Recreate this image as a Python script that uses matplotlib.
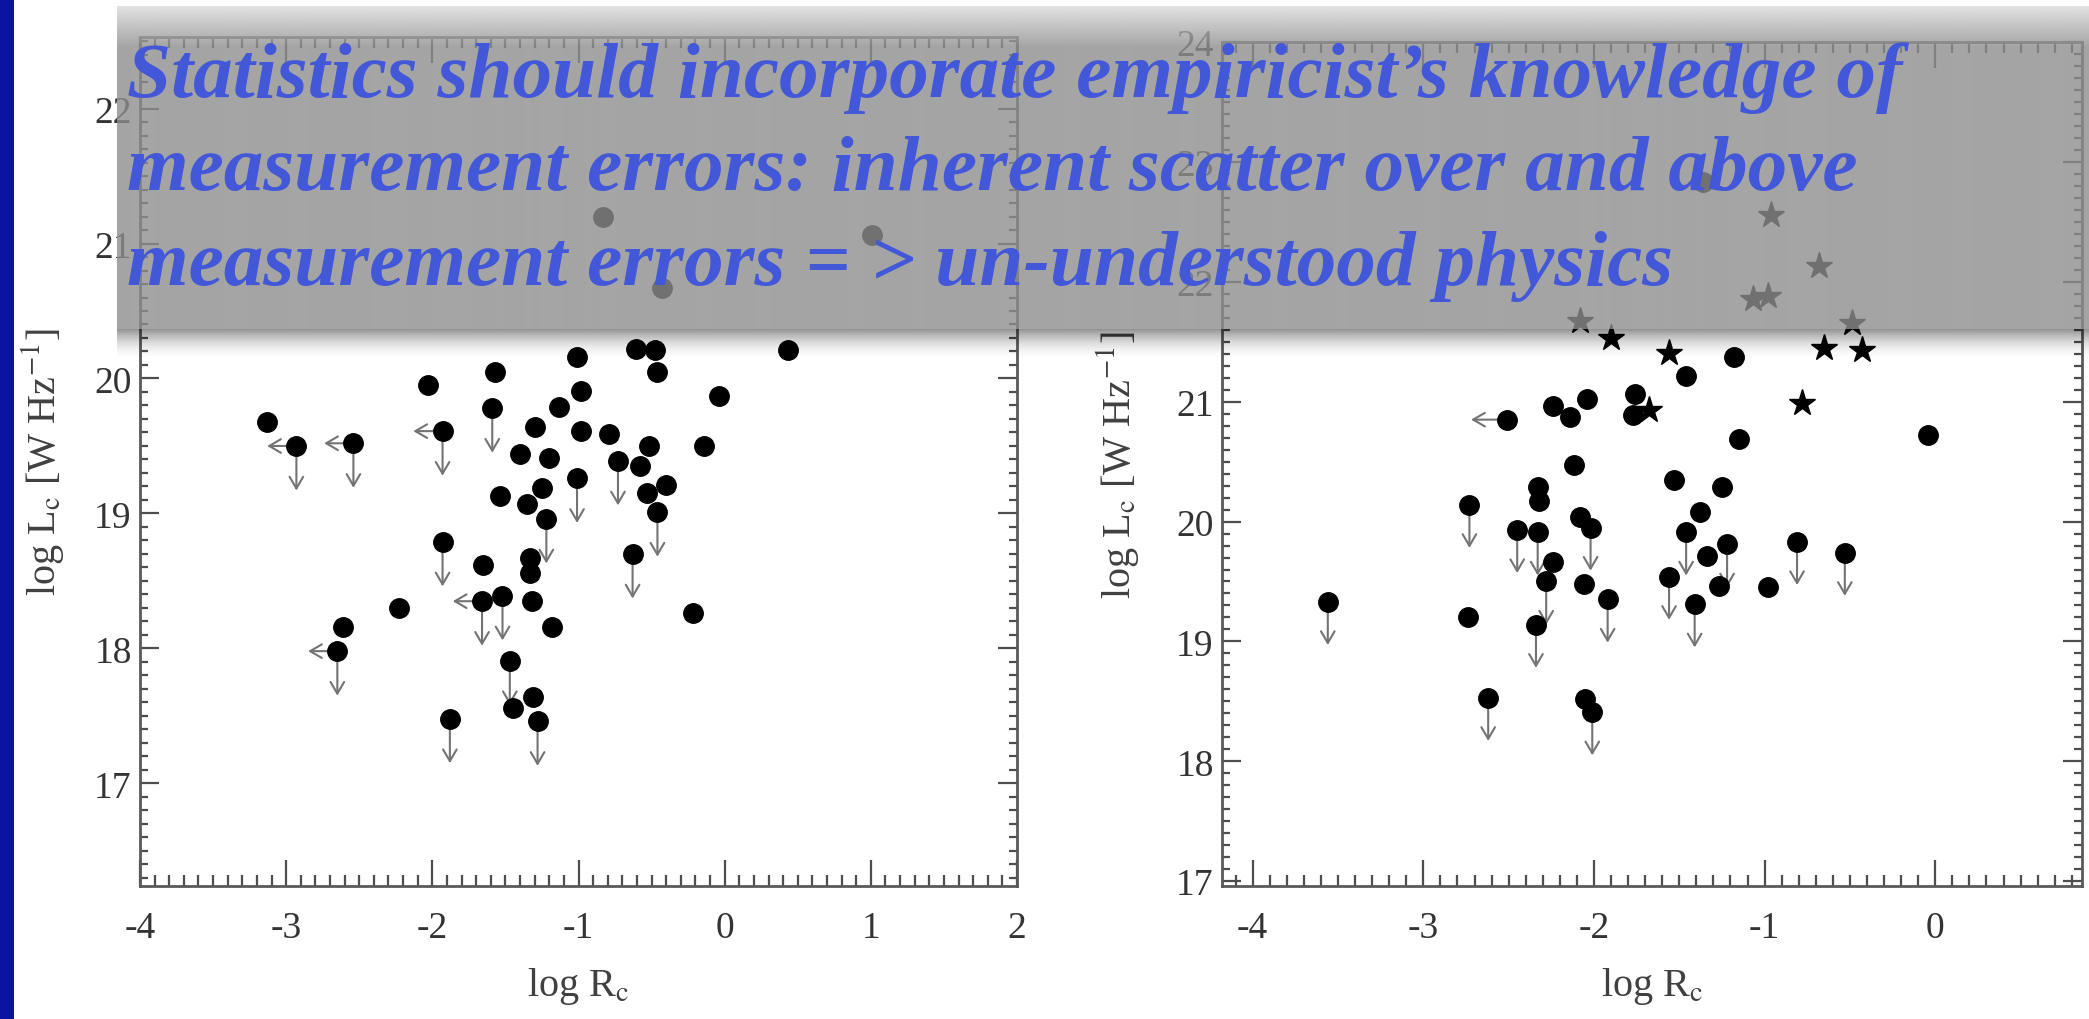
import matplotlib
matplotlib.use("Agg")
import matplotlib.pyplot as plt
import numpy as np
from matplotlib.ticker import MultipleLocator
from matplotlib.patches import Rectangle

plt.rcParams["font.family"] = ["Liberation Serif", "DejaVu Serif"]
plt.rcParams["mathtext.fontset"] = "stix"
plt.rcParams["axes.unicode_minus"] = False

# ---- left panel (all circles); up = upper limit, lim = limit in R_c
left_x = [-3.13, -2.93, -2.54, -2.03, -1.93, -1.57, -1.59, -1.01, -0.61, -0.48,
          -0.46, 0.43, -0.98, -1.13, -1.30, -0.98, -0.79, -0.04, -0.14, -0.52,
          -1.40, -1.20, -0.73, -0.58, -1.01, -1.25, -0.40, -1.54, -1.35, -0.53,
          -1.22, -0.46, -1.33, -1.33, -0.63, -1.52, -1.32, -1.18, -0.22, -1.47,
          -1.45, -1.31, -1.28, -1.93, -1.65, -1.66, -2.23, -2.61, -2.65, -1.88,
          -0.83, -0.43, 1.01]
left_y = [19.68, 19.50, 19.52, 19.95, 19.61, 20.05, 19.78, 20.16, 20.22, 20.21,
          20.05, 20.21, 19.91, 19.79, 19.64, 19.61, 19.59, 19.87, 19.50, 19.50,
          19.44, 19.41, 19.39, 19.35, 19.26, 19.19, 19.21, 19.13, 19.07, 19.15,
          18.96, 19.01, 18.67, 18.56, 18.70, 18.39, 18.35, 18.16, 18.26, 17.91,
          17.56, 17.64, 17.46, 18.79, 18.62, 18.35, 18.30, 18.16, 17.98, 17.48,
          21.20, 20.67, 21.06]
left_up = [0, 1, 1, 0, 1, 0, 1, 0, 0, 0,
           0, 0, 0, 0, 0, 0, 0, 0, 0, 0,
           0, 0, 1, 0, 1, 0, 0, 0, 0, 0,
           1, 1, 0, 0, 1, 1, 0, 0, 0, 1,
           0, 0, 1, 1, 0, 1, 0, 0, 1, 1,
           0, 0, 0]
left_lim = [0, 1, 1, 0, 1, 0, 0, 0, 0, 0,
            0, 0, 0, 0, 0, 0, 0, 0, 0, 0,
            0, 0, 0, 0, 0, 0, 0, 0, 0, 0,
            0, 0, 0, 0, 0, 0, 0, 0, 0, 0,
            0, 0, 0, 0, 0, 1, 0, 0, 1, 0,
            0, 0, 0]

# ---- right panel circles
right_x = [-2.51, -2.24, -2.14, -2.04, -1.36, -1.18, -1.46, -1.76, -1.77, -1.15,
           -0.04, -2.12, -2.73, -2.33, -2.32, -2.45, -2.33, -2.08, -2.02, -2.24,
           -2.28, -2.06, -1.92, -3.56, -2.74, -2.34, -2.62, -2.05, -2.01, -1.53,
           -1.25, -1.38, -1.46, -1.22, -1.34, -0.81, -0.53, -1.56, -1.27, -0.98,
           -1.41]
right_y = [20.85, 20.96, 20.87, 21.02, 22.83, 21.37, 21.21, 21.06, 20.89, 20.69,
           20.72, 20.47, 20.14, 20.29, 20.17, 19.93, 19.91, 20.04, 19.95, 19.66,
           19.50, 19.48, 19.35, 19.33, 19.20, 19.14, 18.53, 18.52, 18.41, 20.35,
           20.29, 20.08, 19.91, 19.81, 19.71, 19.83, 19.74, 19.54, 19.46, 19.45,
           19.31]
right_up = [0, 0, 0, 0, 0, 0, 0, 0, 0, 0,
            0, 0, 1, 0, 0, 1, 1, 0, 1, 0,
            1, 0, 1, 1, 0, 1, 1, 0, 1, 0,
            0, 0, 1, 1, 0, 1, 1, 1, 0, 0,
            1]
right_lim = [1, 0, 0, 0, 0, 0, 0, 0, 0, 0,
             0, 0, 0, 0, 0, 0, 0, 0, 0, 0,
             0, 0, 0, 0, 0, 0, 0, 0, 0, 0,
             0, 0, 0, 0, 0, 0, 0, 0, 0, 0,
             0]

# ---- right panel stars
star_x = [-2.08, -1.90, -0.96, -0.68, -1.07, -0.98, -0.49, -1.56, -0.65, -0.43,
          -0.78, -1.68]
star_y = [21.67, 21.53, 22.56, 22.13, 21.86, 21.88, 21.66, 21.41, 21.45, 21.43,
          20.99, 20.93]

note_lines = ["Statistics should incorporate empiricist\u2019s knowledge of",
              "measurement errors: inherent scatter over and above",
              "measurement errors = > un-understood physics"]

W, H = 2089, 1020
fig = plt.figure(figsize=(W / 100, H / 100), dpi=100)
fig.patch.set_facecolor("white")


def draw_panel(ax, xs, ys, ups, lims, xlim, ylim, down_len, left_len, ylabelpad):
    arrow = dict(arrowstyle="->,head_length=0.6,head_width=0.35", color="0.45",
                 lw=1.5, mutation_scale=14, shrinkA=0, shrinkB=0)
    for x, y, u, l in zip(xs, ys, ups, lims):
        if u:
            ax.annotate("", xy=(x, y - down_len), xytext=(x, y), arrowprops=arrow, zorder=2)
        if l:
            ax.annotate("", xy=(x - left_len, y), xytext=(x, y), arrowprops=arrow, zorder=2)
    ax.plot(xs, ys, "o", color="black", ms=14, zorder=3)
    ax.set_xlim(*xlim)
    ax.set_ylim(*ylim)
    ax.xaxis.set_major_locator(MultipleLocator(1))
    ax.xaxis.set_minor_locator(MultipleLocator(0.1))
    ax.yaxis.set_major_locator(MultipleLocator(1))
    ax.yaxis.set_minor_locator(MultipleLocator(0.1))
    ax.tick_params(which="both", direction="in", top=True, right=True, colors="0.3",
                   labelcolor="0.2", labelsize=27, width=1.6)
    ax.tick_params(axis="x", which="major", length=19, pad=18)
    ax.tick_params(axis="x", which="minor", length=8)
    ax.tick_params(axis="y", which="major", length=14, pad=6)
    ax.tick_params(axis="y", which="minor", length=6)
    for sp in ax.spines.values():
        sp.set_color("0.35")
        sp.set_linewidth(2)
    ax.set_xlabel(r"log R$_{\rm c}$", fontsize=29, color="0.25", labelpad=14)
    ax.set_ylabel(r"log L$_{\rm c}$ [W Hz$^{-1}$]", fontsize=29, color="0.25",
                  labelpad=ylabelpad)


ax1 = fig.add_axes([140 / W, 1 - 887 / H, 877 / W, 849 / H])
draw_panel(ax1, left_x, left_y, left_up, left_lim, (-4, 2), (16.24, 22.53), 0.33, 0.2, 20)

ax2 = fig.add_axes([1222 / W, 1 - 887 / H, 860 / W, 844 / H])
draw_panel(ax2, right_x, right_y, right_up, right_lim, (-4.18, 0.86), (16.96, 24.0),
           0.36, 0.21, 25)
ax2.plot(star_x, star_y, "*", color="black", ms=20, zorder=3)

# grey translucent banner with shading on top and a soft shadow under it
box_top, box_bot, box_left = 7, 330, 117
nrow = box_bot - box_top
rows = np.arange(nrow)
grey = np.where(rows < 40, 0.86 - (0.86 - 0.56) * rows / 40, 0.56)
rgba = np.zeros((nrow, 1, 4))
rgba[:, 0, 0] = grey
rgba[:, 0, 1] = grey
rgba[:, 0, 2] = grey
rgba[:, 0, 3] = 0.8
ov = fig.add_axes([box_left / W, 1 - box_bot / H, (W - box_left) / W, nrow / H], zorder=2)
ov.imshow(rgba, aspect="auto", extent=[0, 1, 0, 1], interpolation="bilinear")
ov.axis("off")

sh_h = 32
sh = np.zeros((sh_h, 1, 4))
sh[:, 0, 3] = 0.42 * (1 - np.arange(sh_h) / sh_h) ** 2
sh_ax = fig.add_axes([box_left / W, 1 - (box_bot + sh_h) / H, (W - box_left) / W, sh_h / H], zorder=2)
sh_ax.imshow(sh, aspect="auto", extent=[0, 1, 0, 1], interpolation="bilinear")
sh_ax.axis("off")

# banner text, sized so that the first line spans the same width
fig.canvas.draw()
renderer = fig.canvas.get_renderer()
probe = fig.text(0, 0, note_lines[0], fontsize=50, style="italic", weight="bold")
pw = probe.get_window_extent(renderer).width
probe.remove()
fsize = 50 * 1775 / pw
baselines = [97, 190, 285]
for line, yb in zip(note_lines, baselines):
    fig.text(127 / W, 1 - yb / H, line, fontsize=fsize, style="italic", weight="bold",
             color="#4258d8", va="baseline", ha="left", zorder=5)

# dark blue slide edge
fig.patches.append(Rectangle((0, 0), 14 / W, 1, transform=fig.transFigure,
                             facecolor="#0a14a0", edgecolor="none", zorder=6))

fig.savefig("out.png", dpi=100)
